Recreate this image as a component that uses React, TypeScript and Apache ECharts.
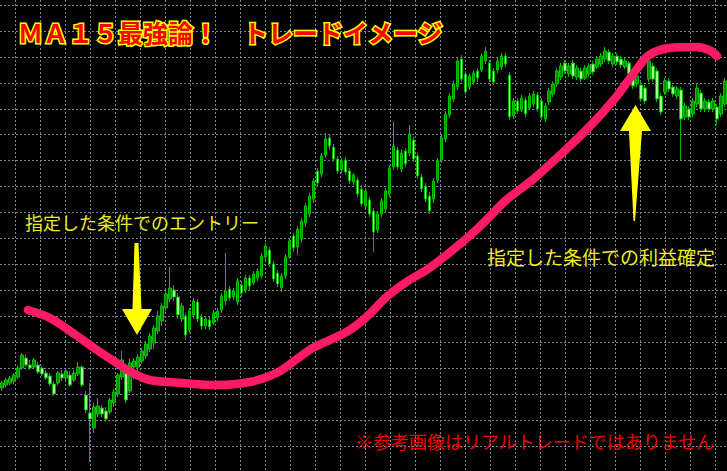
import React, { useEffect, useRef } from "react";
import * as echarts from "echarts";

// Candles: [open, close, low, high] in price points
const ohlc: number[][] = [
  [83, 88, 80, 90], [86, 91, 84, 93], [88, 93, 86, 95], [90, 96, 87, 98], [94, 103, 92, 105],
  [103, 116, 101, 118], [113, 106, 104, 117], [106, 103, 101, 111], [104, 111, 102, 113], [106, 99, 97, 109],
  [103, 97, 95, 105], [98, 93, 91, 101], [95, 87, 85, 98], [87, 77, 75, 90], [88, 98, 86, 100],
  [97, 93, 90, 101], [93, 100, 91, 103], [96, 86, 84, 100], [91, 98, 89, 101], [97, 104, 95, 109],
  [104, 86, 84, 106], [76, 61, 58, 80], [58, 52, 9, 88], [43, 64, 38, 68], [57, 65, 54, 73],
  [63, 57, 54, 66], [60, 52, 49, 64], [59, 71, 57, 73], [68, 79, 64, 82], [77, 96, 74, 98],
  [94, 111, 91, 120], [98, 71, 68, 103], [80, 108, 78, 112], [104, 110, 92, 113], [104, 114, 100, 117],
  [110, 120, 107, 123], [115, 127, 112, 130], [122, 135, 119, 138], [128, 143, 122, 146], [140, 155, 137, 160],
  [150, 165, 145, 168], [163, 177, 160, 180], [172, 183, 169, 204], [181, 174, 170, 186], [174, 156, 152, 178],
  [152, 165, 149, 168], [155, 136, 131, 158], [141, 160, 138, 163], [156, 170, 152, 173], [169, 152, 149, 172],
  [154, 145, 141, 157], [145, 152, 142, 155], [151, 144, 141, 154], [148, 158, 146, 161], [153, 160, 150, 163],
  [161, 175, 158, 178], [170, 180, 166, 218], [182, 173, 170, 185], [174, 180, 171, 183], [169, 190, 166, 193],
  [186, 178, 174, 190], [181, 193, 178, 196], [193, 185, 181, 196], [188, 197, 186, 200], [193, 200, 190, 203],
  [195, 215, 192, 218], [214, 225, 211, 228], [221, 207, 204, 224], [207, 192, 189, 210], [198, 187, 184, 201],
  [183, 195, 179, 198], [195, 214, 192, 217], [214, 230, 212, 233], [235, 223, 219, 238], [224, 242, 216, 245],
  [232, 250, 228, 253], [248, 265, 244, 268], [257, 275, 254, 278], [272, 290, 268, 293], [300, 288, 284, 303],
  [297, 315, 294, 318], [316, 332, 313, 338], [333, 325, 321, 336], [324, 312, 309, 327], [312, 300, 297, 315],
  [301, 310, 298, 313], [311, 299, 296, 314], [300, 290, 287, 303], [289, 296, 286, 298], [291, 277, 274, 294],
  [282, 267, 264, 286], [265, 280, 262, 283], [271, 257, 254, 274], [260, 239, 219, 263], [241, 257, 238, 260],
  [257, 270, 254, 273], [262, 280, 259, 283], [277, 303, 274, 306], [304, 325, 301, 349], [321, 304, 301, 324],
  [302, 318, 299, 322], [320, 307, 304, 323], [318, 337, 315, 346], [331, 312, 309, 334], [315, 295, 292, 318],
  [294, 282, 279, 297], [285, 272, 269, 288], [275, 260, 257, 279], [272, 290, 268, 293], [291, 310, 288, 313],
  [311, 333, 308, 336], [332, 357, 329, 360], [356, 375, 353, 378], [372, 387, 369, 390], [384, 410, 381, 414],
  [412, 392, 389, 416], [397, 379, 376, 400], [384, 395, 381, 398], [389, 398, 386, 401], [400, 393, 389, 403],
  [401, 415, 399, 418], [410, 420, 407, 424], [408, 392, 389, 411], [400, 389, 386, 403], [401, 410, 398, 413],
  [404, 415, 401, 418], [415, 407, 404, 418], [396, 354, 351, 399], [355, 370, 352, 373], [370, 360, 357, 373],
  [361, 373, 359, 376], [371, 357, 354, 374], [363, 375, 361, 378], [367, 377, 364, 380], [376, 362, 359, 379],
  [370, 354, 351, 373], [352, 365, 349, 368], [369, 380, 366, 383], [377, 387, 374, 390], [387, 400, 384, 403],
  [394, 405, 391, 408], [408, 400, 397, 411], [397, 405, 394, 408], [408, 395, 392, 411], [394, 403, 391, 406],
  [400, 392, 389, 403], [393, 403, 391, 406], [397, 405, 394, 408], [407, 399, 396, 410], [404, 412, 402, 415],
  [407, 415, 404, 418], [412, 420, 409, 424], [419, 410, 407, 422], [407, 415, 404, 418], [415, 409, 406, 418],
  [412, 406, 403, 415], [404, 410, 402, 413], [408, 397, 394, 410], [400, 385, 382, 403], [387, 395, 384, 398],
  [386, 372, 369, 389], [383, 370, 367, 386], [392, 410, 389, 414], [405, 392, 389, 408], [400, 372, 369, 403],
  [375, 359, 356, 378], [379, 390, 376, 393], [390, 382, 379, 393], [384, 377, 374, 386], [375, 382, 372, 385],
  [381, 352, 311, 384], [354, 365, 351, 368], [362, 354, 351, 365], [357, 370, 354, 373], [367, 383, 364, 388],
  [378, 362, 359, 381], [362, 370, 359, 373], [369, 362, 359, 372], [362, 370, 359, 373], [364, 352, 346, 367],
  [357, 375, 354, 378], [367, 390, 364, 393],
];

// Bar numbers (categories)
const bars: string[] = ohlc.map((_, i) => String(i + 1));

// MA15 line (drawn freehand on the picture): bar position and price
const maBar: number[] = [6.5, 12, 17.75, 23.75, 28.75, 32.75, 37, 45.25, 53.75, 62, 68.75, 74.5, 77.75, 86.25, 91.25,
  96.25, 101.25, 107, 113.75, 119.5, 126.25, 132.75, 140.25, 147, 153.75, 158.75, 162, 167, 173.75, 177, 179];
const maPrice: number[] = [161, 153, 138, 121, 108, 98, 91, 88, 86, 89, 98, 114, 123, 139, 154,
  174, 189, 203, 224, 244, 271, 291, 318, 344, 374, 401, 416, 423, 424, 421, 415];

// Texts
const titleText = "ＭＡ１５最強論！　トレードイメージ";
const entryText = "指定した条件でのエントリー";
const exitText = "指定した条件での利益確定";
const noteText = "※参考画像はリアルトレードではありません";

const gridColor = "#778899";
const jp = '"Noto Sans CJK JP", "Noto Sans", sans-serif';

export default function App() {
  const ref = useRef<HTMLDivElement>(null);
  useEffect(() => {
    document.body.style.margin = "0";
    document.body.style.background = "#000";
    const chart = echarts.init(ref.current!, null, { renderer: "svg" });
    const hidden = {
      axisLine: { show: false },
      axisTick: { show: false },
      axisLabel: { show: false },
    };
    const option: any = {
      animation: false,
      backgroundColor: "#000000",
      title: {
        text: titleText,
        left: 13,
        top: 14,
        textStyle: {
          color: "#ff0000",
          fontSize: 25,
          fontWeight: "bold",
          fontFamily: jp,
          textBorderColor: "#ffff00",
          textBorderWidth: 3,
        },
      },
      grid: [
        { left: 15, right: 12, top: 0, bottom: 0 },
        { left: 0, right: 0, top: 5, bottom: 25 },
        { left: 0, right: 0, top: 0, bottom: 0 },
      ],
      xAxis: [
        {
          gridIndex: 0, type: "value", min: 0, max: 28, interval: 1, ...hidden,
          splitLine: { show: true, lineStyle: { color: gridColor, type: [2, 2], width: 1 } },
        },
        { gridIndex: 1, type: "value", min: 0, max: 1, ...hidden, splitLine: { show: false } },
        { gridIndex: 2, type: "category", data: bars, boundaryGap: true, ...hidden, splitLine: { show: false } },
        { gridIndex: 2, type: "value", min: -0.5, max: ohlc.length - 0.5, ...hidden, splitLine: { show: false } },
      ],
      yAxis: [
        { gridIndex: 0, type: "value", min: 0, max: 1, ...hidden, splitLine: { show: false } },
        {
          gridIndex: 1, type: "value", min: 0, max: 17, interval: 1, ...hidden,
          splitLine: { show: true, lineStyle: { color: gridColor, type: [2, 2], width: 1 } },
        },
        { gridIndex: 2, type: "value", min: 0, max: 471, scale: false, ...hidden, splitLine: { show: false } },
      ],
      series: [
        {
          type: "candlestick",
          xAxisIndex: 2,
          yAxisIndex: 2,
          data: ohlc,
          barWidth: 3,
          itemStyle: {
            color: "#0a8a0a",
            color0: "#a8f59a",
            borderColor: "#00c400",
            borderColor0: "#00b400",
            borderWidth: 1,
          },
          z: 3,
        },
        {
          type: "line",
          xAxisIndex: 3,
          yAxisIndex: 2,
          data: maBar.map((b, i) => [b, maPrice[i]]),
          smooth: 0.3,
          showSymbol: false,
          symbol: "none",
          lineStyle: { color: "#ff1a66", width: 8.5, cap: "round", join: "round" },
          z: 5,
        },
      ],
      graphic: [
        {
          type: "polygon",
          z: 10,
          shape: { points: [[134.5, 243], [138.5, 243], [141.5, 309], [152, 309], [137, 335], [122, 309], [132.5, 309]] },
          style: { fill: "#ffff00" },
        },
        {
          type: "polygon",
          z: 10,
          shape: { points: [[635.5, 105], [651, 131], [642, 131], [635, 221], [633.5, 221], [629, 131], [620, 131]] },
          style: { fill: "#ffff00" },
        },
        {
          type: "text",
          x: 25,
          y: 222,
          z: 10,
          style: { text: entryText, fill: "#ecec1e", font: `18px ${jp}`, verticalAlign: "middle" },
        },
        {
          type: "text",
          x: 487,
          y: 256,
          z: 10,
          style: { text: exitText, fill: "#ecec1e", font: `19px ${jp}`, verticalAlign: "middle" },
        },
        {
          type: "text",
          x: 355,
          y: 441,
          z: 10,
          style: { text: noteText, fill: "#f00000", font: `18px ${jp}`, verticalAlign: "middle" },
        },
      ],
    };
    chart.setOption(option);
    return () => chart.dispose();
  }, []);
  return (
    <div
      ref={ref}
      style={{ position: "absolute", left: 0, top: 0, width: 727, height: 471, background: "#000" }}
    />
  );
}
